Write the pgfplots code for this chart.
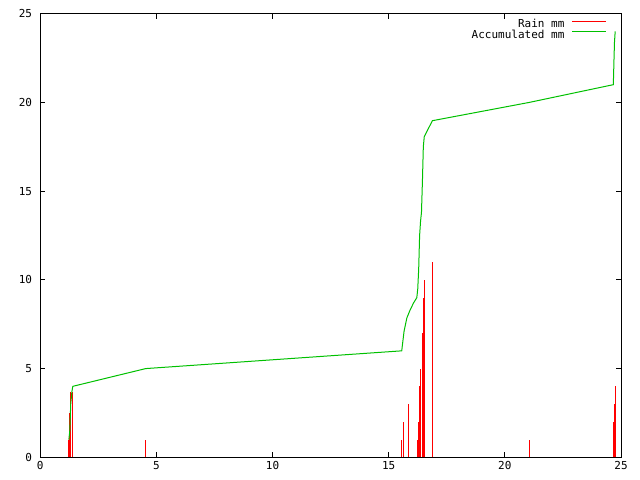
\documentclass[border=0pt]{standalone}
\usepackage{fontspec}
\setmonofont{DejaVu Sans Mono}
\usepackage{pgfplots}
\pgfplotsset{compat=1.18}
\definecolor{gpred}{RGB}{255,0,0}
\definecolor{gpgreen}{RGB}{0,192,0}
\begin{document}
\begin{tikzpicture}
\useasboundingbox (-40.3bp,-22.7bp) rectangle (599.7bp,457.3bp);
\begin{axis}[
    at={(0,0)}, anchor=south west,
    scale only axis, width=580.7bp, height=443.6bp,
    xmin=0, xmax=25, ymin=0, ymax=25,
    xtick={0,5,...,25}, ytick={0,5,...,25},
    tick align=inside, major tick length=5bp,
    axis line style={line width=1bp},
    every tick/.style={black, line width=1bp},
    /pgf/number format/assume math mode=true,
    tick label style={font=\ttfamily\fontsize{11bp}{12bp}\selectfont, inner sep=0pt},
    xticklabel style={yshift=-4bp},
    yticklabel style={xshift=-8bp},
    legend style={draw=none, fill=none, at={(1,1)}, anchor=north east,
        xshift=-14.3bp, yshift=-6bp, inner sep=0pt,
        font=\ttfamily\fontsize{11bp}{12bp}\selectfont,
        nodes={inner sep=0.6bp, text height=7.5bp, text depth=1.5bp},
        /tikz/every odd column/.append style={column sep=6.5bp}},
    legend cell align=right, legend plot pos=right,
]
\addplot[ycomb, color=gpred, line width=1bp, mark=none,
    legend image code/.code={\draw[gpred, line width=1bp] (0bp,3.5bp) -- (34bp,3.5bp);}]
    coordinates {
    (1.23,1.0) (1.27,2.5) (1.31,3.7) (1.40,3.7)
    (4.54,1.0)
    (15.54,1.0) (15.62,2.0) (15.85,3.0)
    (16.24,1.0) (16.28,2.0) (16.32,4.0) (16.37,5.0)
    (16.44,7.0) (16.48,9.0) (16.53,10.0) (16.87,11.0)
    (21.05,1.0)
    (24.67,2.0) (24.71,3.0) (24.75,4.0)
};
\addlegendentry{Rain mm}
\addplot[color=gpgreen, line width=1bp, mark=none,
    legend image code/.code={\draw[gpgreen, line width=1bp] (0bp,3.5bp) -- (34bp,3.5bp);}]
    coordinates {
    (1.23,1.0) (1.27,1.5) (1.31,3.0) (1.36,3.7) (1.40,4.0)
    (4.54,5.0) (15.56,6.0) (15.66,7.1) (15.78,7.85) (15.92,8.3)
    (16.07,8.7) (16.21,9.0) (16.25,9.5) (16.29,10.6) (16.33,12.5)
    (16.37,13.3) (16.41,13.8) (16.45,15.5) (16.49,17.5) (16.53,18.07)
    (16.88,18.97) (21.05,20.0) (24.67,21.0) (24.70,22.5) (24.72,23.4)
    (24.75,24.0)
};
\addlegendentry{Accumulated mm}
\end{axis}
\end{tikzpicture}
\end{document}
